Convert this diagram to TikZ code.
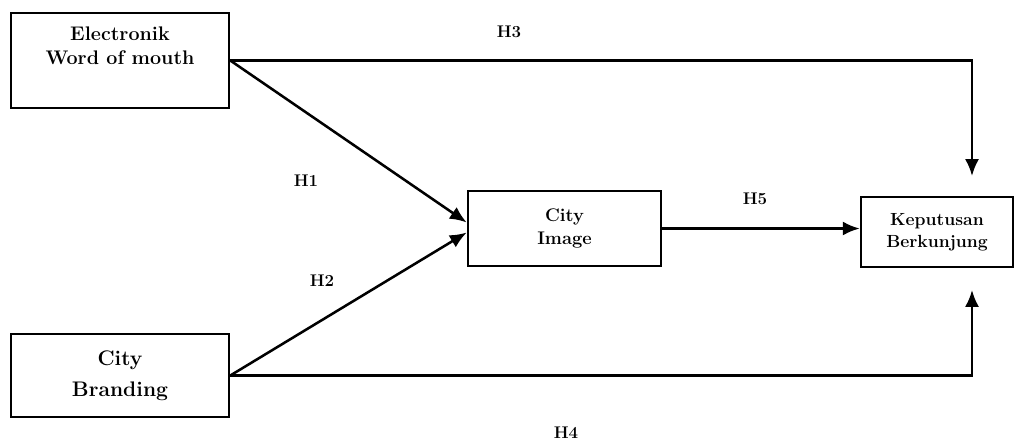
\documentclass[tikz,border=0pt]{standalone}
\usetikzlibrary{arrows.meta}
\tikzset{
    varbox/.style={draw, line width=1.8pt, align=center, font=\bfseries\fontsize{14}{17}\selectfont},
    path/.style={line width=1.8pt, -{Latex[length=12pt,width=10pt]}},
    hyp/.style={font=\bfseries\fontsize{12}{14}\selectfont}
}
\begin{document}
\begin{tikzpicture}[x=0.025cm, y=-0.025cm]
    \useasboundingbox (0,0) rectangle (1025,441);
    % Boxes
    \node[varbox, minimum width=5.45cm, minimum height=2.375cm] (ewom) at (120,60.5)
        {Electronik\\Word of mouth\\[4pt]};
    \node[varbox, minimum width=5.45cm, minimum height=2.075cm, font=\bfseries\fontsize{15}{22}\selectfont] (brand) at (120,375.5)
        {City\\Branding};
    \node[varbox, minimum width=4.825cm, minimum height=1.875cm, font=\bfseries\fontsize{13}{17}\selectfont] (image) at (564.5,228.5)
        {City\\Image};
    \node[varbox, minimum width=3.8cm, minimum height=1.75cm, font=\bfseries\fontsize{12.5}{16}\selectfont] (visit) at (937,232)
        {Keputusan\\Berkunjung};
    
    % End points of the long paths
    \coordinate (h3end) at (972,176);
    \coordinate (h4end) at (972,290);
    
    % Arrows
    \draw[path] (ewom.east) -- ([yshift=0.15cm]image.west);
    \draw[path] (brand.east) -- ([yshift=-0.1cm]image.west);
    \draw[path] (ewom.east) -| (h3end);
    \draw[path] (brand.east) -| (h4end);
    \draw[path] (image.east) -- (image.east -| visit.west);
    
    % Labels
    \node[hyp] (lh1) at (306,181) {H1};
    \node[hyp] (lh2) at (322,281) {H2};
    \node[hyp] (lh3) at (509,32) {H3};
    \node[hyp] (lh4) at (566,433) {H4};
    \node[hyp] (lh5) at (755,199) {H5};
\end{tikzpicture}
\end{document}
